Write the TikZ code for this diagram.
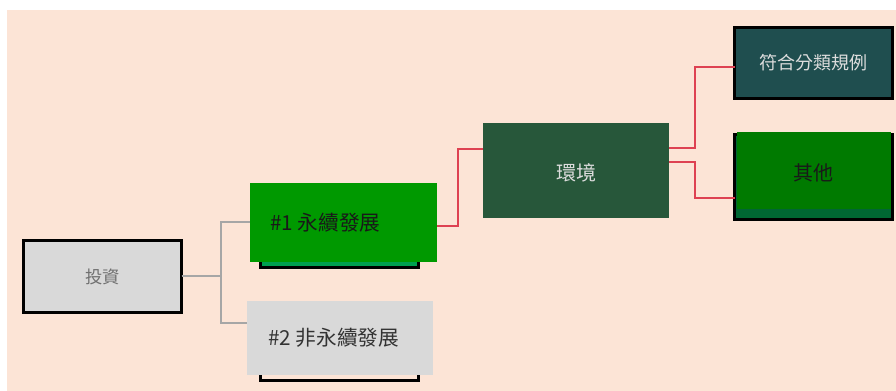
\documentclass[tikz,border=0pt]{standalone}
\usepackage{fontspec}
\setmainfont{Noto Sans CJK TC}
\usetikzlibrary{calc}
\definecolor{peach}{HTML}{FCE4D6}
\definecolor{boxgray}{HTML}{D9D9D9}
\definecolor{brightgreen}{HTML}{009900}
\definecolor{undergreen}{HTML}{00A050}
\definecolor{envgreen}{HTML}{27573A}
\definecolor{ruleteal}{HTML}{1F4E4F}
\definecolor{othgreen}{HTML}{007A00}
\definecolor{othdark}{HTML}{006633}
\definecolor{linkred}{HTML}{DE4152}
\definecolor{linkgray}{HTML}{A6A6A6}
\definecolor{txtgray}{HTML}{707070}
\definecolor{txtlight}{HTML}{DDDDDD}
\tikzset{
  px/.style={x=0.75pt,y=-0.75pt},
  box/.style={rectangle,inner sep=0pt,outer sep=0pt},
  bordered/.style={box,draw=black,line width=2.25pt},
  graylink/.style={draw=linkgray,line width=1.5pt},
  redlink/.style={draw=linkred,line width=1.5pt},
}
\begin{document}
\begin{tikzpicture}[px]
\useasboundingbox (0,0) rectangle (896,391);
\fill[white] (0,0) rectangle (896,391);
\fill[peach] (7,10) rectangle (896,391);
% underlying boxes
\node[bordered,fill=undergreen,minimum width=118.5pt,minimum height=57pt] (n1u) at (339.5,229.5) {};
\node[bordered,minimum width=118.5pt,minimum height=45pt] (n2u) at (339,351) {};
% main nodes
\node[bordered,fill=boxgray,minimum width=118.5pt,minimum height=54pt,
      text=txtgray,font=\fontsize{13}{15}\selectfont] (inv) at (102.5,276.5) {投資};
\node[box,fill=brightgreen,minimum width=140.25pt,minimum height=59.25pt] (n1) at (343.5,222.5) {};
\node[anchor=west,inner sep=0pt,text=black!90,font=\fontsize{15.5}{18}\selectfont] (n1t) at (270,222.5) {\#1 永續發展};
\node[box,fill=boxgray,minimum width=139.5pt,minimum height=55.5pt] (n2) at (340,338) {};
\node[anchor=west,inner sep=0pt,text=black!80,font=\fontsize{15.5}{18}\selectfont] (n2t) at (268,337.5) {\#2 非永續發展};
\node[box,fill=envgreen,minimum width=139.5pt,minimum height=71.25pt] (env) at (576,170.5) {};
\node[inner sep=0pt,text=txtlight,font=\fontsize{15}{17}\selectfont] (envt) at (576,173) {環境};
\node[bordered,fill=ruleteal,minimum width=118.5pt,minimum height=53.25pt,
      text=txtlight,font=\fontsize{13.5}{16}\selectfont] (rule) at (813.5,63) {符合分類規例};
\node[bordered,fill=othdark,minimum width=118.5pt,minimum height=63.75pt] (oth) at (813.5,177) {};
\fill[othgreen] (737,132) rectangle (891,209);
\node[inner sep=0pt,text=black!90,font=\fontsize{15}{17}\selectfont] (otht) at (813.5,173) {其他};
% connectors
\draw[graylink] (inv.east) -- ++(39.5,0) |- (n1.west);
\draw[graylink] (inv.east) -- ++(39.5,0) |- ([yshift=11pt]n2.west);
\draw[redlink] ([yshift=-3pt]n1.east) -- ++(21,0) |- ([yshift=16pt]env.west);
\draw[redlink] ([yshift=17pt]env.east) -- ++(26,0) |- ([yshift=-3pt]rule.west);
\draw[redlink] ([yshift=6pt]env.east) -- ++(26,0) |- ([yshift=-16pt]oth.west);
\end{tikzpicture}
\end{document}
